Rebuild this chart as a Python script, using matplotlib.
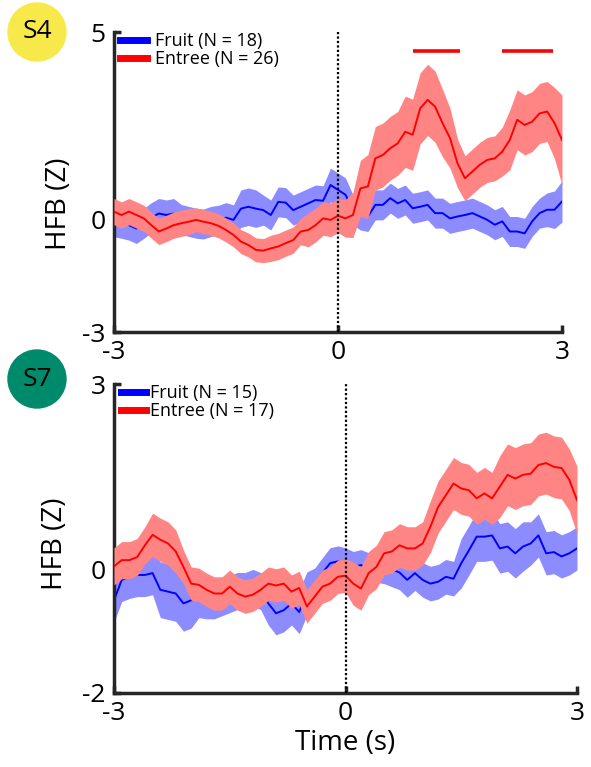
import numpy as np
import matplotlib
matplotlib.use('Agg')
import matplotlib.pyplot as plt
from matplotlib.lines import Line2D
from matplotlib.patches import Circle

plt.rcParams['font.family'] = ['Open Sans', 'DejaVu Sans']

# time grid (s), one sample every 0.1 s
time = np.linspace(-3, 3, 61)

# ---- S4 ----
s4_fruit_mean = [-0.06, -0.10, -0.15, -0.24, -0.10, 0.05, 0.16, 0.12, 0.16, 0.00,
                 -0.05, -0.10, -0.12, -0.05, -0.02, 0.05, -0.01, 0.29, 0.34, 0.29,
                 0.25, 0.12, 0.47, 0.45, 0.25, 0.34, 0.43, 0.52, 0.50, 0.92,
                 0.79, 0.66, 0.26, 0.12, 0.08, 0.39, 0.39, 0.57, 0.43, 0.52,
                 0.30, 0.34, 0.39, 0.17, 0.17, 0.03, 0.08, 0.12, 0.17, 0.08,
                 -0.01, -0.14, -0.05, -0.32, -0.32, -0.37, -0.05, 0.17, 0.26, 0.26,
                 0.48]
s4_fruit_sem = [0.40, 0.40, 0.40, 0.40, 0.40, 0.40, 0.40, 0.40, 0.40, 0.40,
                0.40, 0.40, 0.40, 0.40, 0.40, 0.40, 0.40, 0.50, 0.50, 0.50,
                0.40, 0.40, 0.40, 0.40, 0.40, 0.40, 0.40, 0.40, 0.40, 0.45,
                0.45, 0.45, 0.40, 0.40, 0.40, 0.40, 0.40, 0.40, 0.40, 0.40,
                0.40, 0.40, 0.40, 0.40, 0.40, 0.40, 0.40, 0.40, 0.40, 0.40,
                0.40, 0.40, 0.40, 0.40, 0.40, 0.40, 0.40, 0.40, 0.45, 0.50,
                0.55]
s4_entree_mean = [0.21, 0.12, 0.21, 0.12, 0.03, -0.15, -0.32, -0.24, -0.15, -0.10,
                  -0.06, -0.01, -0.06, -0.10, -0.17, -0.28, -0.41, -0.59, -0.68, -0.81,
                  -0.83, -0.77, -0.72, -0.63, -0.55, -0.32, -0.28, -0.15, 0.03, -0.01,
                  0.10, 0.03, 0.12, 0.83, 0.88, 1.63, 1.72, 1.90, 2.03, 2.34,
                  2.26, 2.96, 3.19, 3.01, 2.57, 2.17, 1.50, 1.10, 1.28, 1.46,
                  1.59, 1.63, 1.81, 2.12, 2.66, 2.52, 2.61, 2.83, 2.88, 2.57,
                  2.12]
s4_entree_sem = [0.35, 0.35, 0.35, 0.35, 0.35, 0.35, 0.35, 0.35, 0.35, 0.35,
                 0.35, 0.32, 0.32, 0.32, 0.32, 0.32, 0.32, 0.32, 0.32, 0.32,
                 0.32, 0.35, 0.35, 0.35, 0.35, 0.35, 0.45, 0.45, 0.45, 0.45,
                 0.45, 0.50, 0.60, 0.75, 0.85, 0.85, 0.85, 0.85, 0.85, 0.95,
                 0.95, 0.95, 0.95, 0.95, 0.90, 0.80, 0.65, 0.60, 0.60, 0.60,
                 0.60, 0.60, 0.65, 0.80, 0.80, 0.80, 0.80, 0.80, 0.80, 0.95,
                 1.20]
s4_sig_start = [1.0, 2.2]
s4_sig_end = [1.63, 2.88]
s4_sig_y = 4.49

# ---- S7 ----
s7_fruit_mean = [-0.50, -0.17, -0.12, -0.09, -0.09, -0.06, -0.33, -0.36, -0.39, -0.55,
                 -0.50, -0.48, -0.50, -0.50, -0.45, -0.40, -0.35, -0.35, -0.30, -0.35,
                 -0.55, -0.71, -0.66, -0.55, -0.69, -0.39, -0.23, -0.06, 0.10, 0.13,
                 0.10, 0.04, 0.07, 0.02, 0.04, 0.02, 0.00, -0.05, -0.17, -0.06,
                 -0.17, -0.23, -0.20, -0.12, -0.15, 0.10, 0.31, 0.53, 0.53, 0.55,
                 0.34, 0.37, 0.26, 0.37, 0.42, 0.55, 0.26, 0.28, 0.21, 0.26,
                 0.34]
s7_fruit_sem = [0.35, 0.35, 0.35, 0.35, 0.35, 0.35, 0.45, 0.45, 0.45, 0.45,
                0.45, 0.30, 0.30, 0.30, 0.30, 0.30, 0.30, 0.30, 0.30, 0.30,
                0.35, 0.35, 0.35, 0.35, 0.35, 0.35, 0.25, 0.25, 0.25, 0.25,
                0.25, 0.25, 0.25, 0.25, 0.25, 0.25, 0.28, 0.28, 0.28, 0.28,
                0.28, 0.28, 0.28, 0.28, 0.28, 0.40, 0.40, 0.40, 0.40, 0.40,
                0.40, 0.40, 0.40, 0.40, 0.35, 0.35, 0.35, 0.35, 0.35, 0.35,
                0.35]
s7_entree_mean = [0.05, 0.15, 0.15, 0.20, 0.39, 0.56, 0.48, 0.42, 0.29, 0.04,
                  -0.23, -0.25, -0.33, -0.39, -0.39, -0.28, -0.39, -0.44, -0.41, -0.33,
                  -0.23, -0.26, -0.23, -0.36, -0.30, -0.60, -0.44, -0.28, -0.23, -0.12,
                  -0.10, -0.23, -0.31, -0.06, 0.04, 0.26, 0.29, 0.39, 0.34, 0.34,
                  0.42, 0.69, 1.01, 1.20, 1.39, 1.31, 1.28, 1.15, 1.23, 1.15,
                  1.34, 1.53, 1.47, 1.53, 1.55, 1.69, 1.72, 1.66, 1.64, 1.45,
                  1.12]
s7_entree_sem = [0.30, 0.30, 0.30, 0.30, 0.30, 0.35, 0.35, 0.35, 0.35, 0.27,
                 0.27, 0.27, 0.27, 0.27, 0.27, 0.27, 0.27, 0.27, 0.27, 0.27,
                 0.27, 0.27, 0.27, 0.27, 0.27, 0.27, 0.27, 0.27, 0.27, 0.27,
                 0.27, 0.35, 0.35, 0.35, 0.35, 0.35, 0.35, 0.35, 0.35, 0.35,
                 0.35, 0.42, 0.42, 0.42, 0.42, 0.42, 0.42, 0.42, 0.42, 0.42,
                 0.50, 0.50, 0.50, 0.50, 0.50, 0.50, 0.50, 0.50, 0.50, 0.50,
                 0.55]

BLUE = '#0000ff'
BLUE_BAND = '#8c8cff'
RED = '#ff0000'
RED_BAND = '#ff8585'
AXC = '#262626'


def draw_panel(ax, fruit_m, fruit_s, entree_m, entree_s, ylim, yticks, n_fruit, n_entree):
    fm = np.array(fruit_m)
    fs = np.array(fruit_s)
    em = np.array(entree_m)
    es = np.array(entree_s)
    ax.fill_between(time, fm - fs, fm + fs, color=BLUE_BAND, lw=0, zorder=1)
    ax.plot(time, fm, color=BLUE, lw=1.4, zorder=2)
    ax.fill_between(time, em - es, em + es, color=RED_BAND, lw=0, zorder=3)
    ax.plot(time, em, color=RED, lw=1.4, zorder=4)
    ax.axvline(0, color='black', lw=1.6, ls=(0, (1, 1)), zorder=5)

    ax.set_xlim(-3, 3)
    ax.set_ylim(*ylim)
    ax.set_xticks([-3, 0, 3])
    ax.set_xticklabels(['-3', '0', '3'])
    ax.set_yticks(yticks)
    ax.set_yticklabels([str(v) for v in yticks])
    for s in ['top', 'right']:
        ax.spines[s].set_visible(False)
    for s in ['left', 'bottom']:
        ax.spines[s].set_linewidth(2.5)
        ax.spines[s].set_color(AXC)
    ax.tick_params(direction='in', length=5, width=2.5, color=AXC,
                   labelsize=19, pad=6)
    ax.set_ylabel('HFB (Z)', fontsize=20)

    handles = [Line2D([], [], color=BLUE, lw=5),
               Line2D([], [], color=RED, lw=5)]
    labels = ['Fruit (N = %d)' % n_fruit, 'Entree (N = %d)' % n_entree]
    return handles, labels


fig = plt.figure(figsize=(5.91, 7.67), dpi=100)
ax1 = fig.add_axes([114 / 591, (767 - 332) / 767, 448 / 591, 300 / 767])
ax2 = fig.add_axes([114 / 591, (767 - 693) / 767, 463 / 591, 309 / 767])

h, l = draw_panel(ax1, s4_fruit_mean, s4_fruit_sem, s4_entree_mean, s4_entree_sem,
                  (-3, 5), [-3, 0, 5], 18, 26)
ax1.hlines([s4_sig_y] * len(s4_sig_start), s4_sig_start, s4_sig_end,
           color=RED, lw=2.6, zorder=6)
ax1.legend(h, l, loc='upper left', bbox_to_anchor=(0.014, 1.0), frameon=False,
           fontsize=13, handlelength=1.5, handletextpad=0.45, labelspacing=0.0,
           borderpad=0, borderaxespad=0)
ax1.yaxis.set_label_coords(-0.092, 0.427)

h, l = draw_panel(ax2, s7_fruit_mean, s7_fruit_sem, s7_entree_mean, s7_entree_sem,
                  (-2, 3), [-2, 0, 3], 15, 17)
ax2.legend(h, l, loc='upper left', bbox_to_anchor=(0.016, 1.0), frameon=False,
           fontsize=13, handlelength=1.35, handletextpad=0.25, labelspacing=0.0,
           borderpad=0, borderaxespad=0)
ax2.yaxis.set_label_coords(-0.098, 0.483)
ax2.set_xlabel('Time (s)', fontsize=20, labelpad=2)

# subject badges
for name, color, cy in [('S4', '#f8e94a', 32), ('S7', '#008a6c', 379)]:
    fig.patches.append(Circle((0.37, (767 - cy) / 100), 0.29, color=color,
                              transform=fig.dpi_scale_trans, zorder=0))
    fig.text(37 / 591, (767 - cy) / 767, name, fontsize=19, ha='center', va='center')

fig.savefig('out.png', dpi=100)
